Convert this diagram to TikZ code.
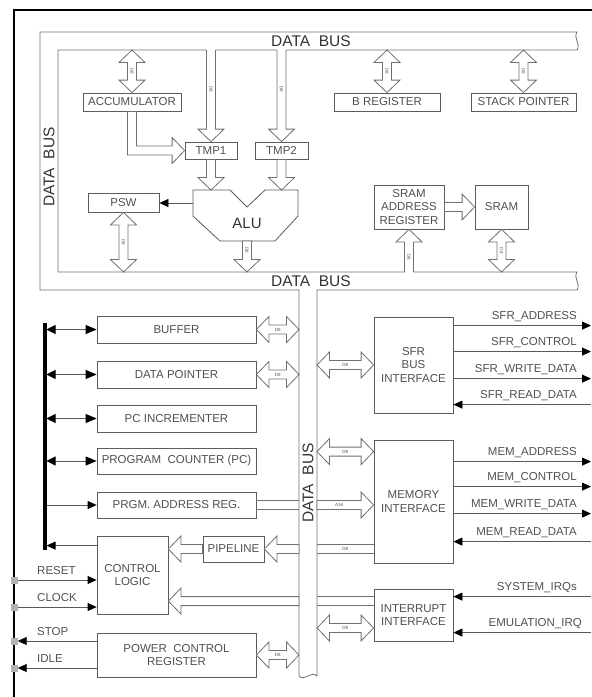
\documentclass[tikz,border=0pt]{standalone}
\usepackage{fontspec}
\setmainfont{Liberation Sans}
\usetikzlibrary{arrows.meta,calc}
\definecolor{busc}{HTML}{707070}
\definecolor{boxc}{HTML}{5C5C5C}
\definecolor{txtc}{HTML}{505050}
\newcommand\arHL{12.5pt}
\newcommand\arHW{13pt}
\newcommand\arSW{4.5pt}
% horizontal double-headed hollow arrow: #1 left tip, #2 right tip
\newcommand\HDbl[3]{%
 \path[hollow] let \p1=#1, \p2=#2 in
 (\x1,\y1) -- ({\x1+\arHL},{\y1+\arHW}) -- ({\x1+\arHL},{\y1+\arSW}) -- ({\x2-\arHL},{\y1+\arSW}) -- ({\x2-\arHL},{\y1+\arHW}) -- (\x2,\y1) -- ({\x2-\arHL},{\y1-\arHW}) -- ({\x2-\arHL},{\y1-\arSW}) -- ({\x1+\arHL},{\y1-\arSW}) -- ({\x1+\arHL},{\y1-\arHW}) -- cycle
 ({(\x1+\x2)/2},\y1) node[dlab] {#3};}
% vertical double-headed: #1 top tip, #2 bottom tip
\newcommand\VDbl[3]{%
 \path[hollow] let \p1=#1, \p2=#2 in
 (\x1,\y1) -- ({\x1+\arHW},{\y1-\arHL}) -- ({\x1+\arSW},{\y1-\arHL}) -- ({\x1+\arSW},{\y2+\arHL}) -- ({\x1+\arHW},{\y2+\arHL}) -- (\x1,\y2) -- ({\x1-\arHW},{\y2+\arHL}) -- ({\x1-\arSW},{\y2+\arHL}) -- ({\x1-\arSW},{\y1-\arHL}) -- ({\x1-\arHW},{\y1-\arHL}) -- cycle
 (\x1,{(\y1+\y2)/2}) node[dlab,rotate=-90] {#3};}
% vertical down, open top on bus: #1 top, #2 bottom tip
\newcommand\VDownOpen[3]{%
 \fill[white] let \p1=#1, \p2=#2 in ({\x1-\arSW},{\y1+1.5pt}) -- ({\x1-\arSW},{\y2+\arHL}) -- ({\x1-\arHW},{\y2+\arHL}) -- (\x1,\y2) -- ({\x1+\arHW},{\y2+\arHL}) -- ({\x1+\arSW},{\y2+\arHL}) -- ({\x1+\arSW},{\y1+1.5pt}) -- cycle;
 \draw[busc,line width=0.8pt] let \p1=#1, \p2=#2 in ({\x1-\arSW},\y1) -- ({\x1-\arSW},{\y2+\arHL}) -- ({\x1-\arHW},{\y2+\arHL}) -- (\x1,\y2) -- ({\x1+\arHW},{\y2+\arHL}) -- ({\x1+\arSW},{\y2+\arHL}) -- ({\x1+\arSW},\y1)
 (\x1,{(\y1+\y2+\arHL)/2}) node[dlab,rotate=-90] {#3};}
% vertical down closed: #1 top tail, #2 bottom tip
\newcommand\VDown[3]{%
 \path[hollow] let \p1=#1, \p2=#2 in ({\x1-\arSW},\y1) -- ({\x1-\arSW},{\y2+\arHL}) -- ({\x1-\arHW},{\y2+\arHL}) -- (\x1,\y2) -- ({\x1+\arHW},{\y2+\arHL}) -- ({\x1+\arSW},{\y2+\arHL}) -- ({\x1+\arSW},\y1) -- cycle
 (\x1,{(\y1+\y2+\arHL)/2}) node[dlab,rotate=-90] {#3};}
% vertical up, open bottom on bus: #1 top tip, #2 bottom
\newcommand\VUpOpen[3]{%
 \fill[white] let \p1=#1, \p2=#2 in ({\x1-\arSW},{\y2-1.5pt}) -- ({\x1-\arSW},{\y1-\arHL}) -- ({\x1-\arHW},{\y1-\arHL}) -- (\x1,\y1) -- ({\x1+\arHW},{\y1-\arHL}) -- ({\x1+\arSW},{\y1-\arHL}) -- ({\x1+\arSW},{\y2-1.5pt}) -- cycle;
 \draw[busc,line width=0.8pt] let \p1=#1, \p2=#2 in ({\x1-\arSW},\y2) -- ({\x1-\arSW},{\y1-\arHL}) -- ({\x1-\arHW},{\y1-\arHL}) -- (\x1,\y1) -- ({\x1+\arHW},{\y1-\arHL}) -- ({\x1+\arSW},{\y1-\arHL}) -- ({\x1+\arSW},\y2)
 (\x1,{(\y1+\y2-\arHL)/2}) node[dlab,rotate=-90] {#3};}
% horizontal right: #1 tail, #2 tip
\newcommand\HRight[3]{%
 \path[hollow] let \p1=#1, \p2=#2 in (\x1,{\y1+\arSW}) -- ({\x2-\arHL},{\y1+\arSW}) -- ({\x2-\arHL},{\y1+\arHW}) -- (\x2,\y1) -- ({\x2-\arHL},{\y1-\arHW}) -- ({\x2-\arHL},{\y1-\arSW}) -- (\x1,{\y1-\arSW}) -- cycle
 ({(\x1+\x2-\arHL)/2},\y1) node[dlab] {#3};}
% horizontal left: #1 tip (left), #2 tail (right)
\newcommand\HLeft[3]{%
 \path[hollow] let \p1=#1, \p2=#2 in (\x2,{\y1+\arSW}) -- ({\x1+\arHL},{\y1+\arSW}) -- ({\x1+\arHL},{\y1+\arHW}) -- (\x1,\y1) -- ({\x1+\arHL},{\y1-\arHW}) -- ({\x1+\arHL},{\y1-\arSW}) -- (\x2,{\y1-\arSW}) -- cycle
 ({(\x1+\x2+\arHL)/2},\y1) node[dlab] {#3};}
% channel of two lines
\newcommand\Chan[3]{%
 \draw[busc,line width=0.8pt] let \p1=#1, \p2=#2 in (\x1,{\y1+\arSW}) -- (\x2,{\y1+\arSW}) (\x1,{\y1-\arSW}) -- (\x2,{\y1-\arSW})
 ({(\x1+\x2)/2},\y1) node[dlab] {#3};}
\begin{document}
\begin{tikzpicture}[x=1pt,y=-1pt,
 box/.style={draw=boxc,line width=0.8pt,fill=white,inner sep=0pt,align=center,text=txtc,font=\fontsize{11.5}{13.5}\selectfont},
 hollow/.style={draw=busc,line width=0.8pt,fill=white},
 dlab/.style={font=\fontsize{4.5}{5}\selectfont,text=txtc,inner sep=0pt},
 buslab/.style={font=\fontsize{15.5}{17}\selectfont,text=black!80,inner sep=0pt},
 sig/.style={draw=black!65,line width=0.8pt},
 sigtip/.style={arrows={-Triangle[length=9pt,width=8pt,color=black]}},
 dbltip/.style={arrows={Triangle[length=9pt,width=9pt,color=black]-Triangle[length=11pt,width=9pt,color=black]}},
 siglab/.style={font=\fontsize{11.5}{13}\selectfont,text=txtc,inner sep=0pt,anchor=base east,yshift=6.5pt},
 leftlab/.style={font=\fontsize{11.5}{13}\selectfont,text=txtc,inner sep=0pt,anchor=base west,yshift=6pt},
 pinsq/.style={fill=black!30,minimum size=7pt,inner sep=0pt},
]
\useasboundingbox (0,0) rectangle (592,697);
% outer frame
\draw[line width=2.2pt,black] (14,697) -- (14,10) -- (592,10);
% data bus
\draw[busc,line width=0.8pt] (577,32) -- (40,32) -- (40,290) -- (299,290) -- (299,676)
  .. controls (305,682) and (311,670) .. (317,676) -- (317,290) -- (577,290)
  .. controls (581,284) and (573,278) .. (577,272) -- (58,272) -- (58,50) -- (577,50)
  .. controls (581,44) and (573,38) .. (577,32) -- cycle;
\node[buslab] (dbtop) at (311,41) {DATA\ \ BUS};
\node[buslab] (dbbot) at (311,281) {DATA\ \ BUS};
\node[buslab,rotate=90] (dbleft) at (49,167) {DATA\ \ BUS};
\node[buslab,rotate=90] (dbmid) at (308,483) {DATA\ \ BUS};
\coordinate (busTopIn) at (58,50);
\coordinate (busBotIn) at (58,272);
\coordinate (vbL) at (299,300);
\coordinate (vbR) at (317,300);
\coordinate (redge) at (591,0);
\coordinate (lx) at (577,0);
\coordinate (cbx) at (46.5,0);
% upper boxes
\node[box,minimum width=98pt,minimum height=18pt] (acc) at (132,102) {ACCUMULATOR};
\node[box,minimum width=106pt,minimum height=18pt] (breg) at (387,102) {B REGISTER};
\node[box,minimum width=105pt,minimum height=18pt] (sp) at (523.5,102) {STACK POINTER};
\node[box,minimum width=52pt,minimum height=17pt] (tmp1) at (211,150.5) {TMP1};
\node[box,minimum width=53pt,minimum height=17pt] (tmp2) at (281.5,150.5) {TMP2};
\node[box,minimum width=71pt,minimum height=19pt] (psw) at (123.5,202.5) {PSW};
\node[box,minimum width=70pt,minimum height=44pt] (sar) at (409,207) {SRAM\\ADDRESS\\REGISTER};
\node[box,minimum width=53pt,minimum height=44pt] (sram) at (501.5,207) {SRAM};
% ALU
\draw[boxc,line width=0.8pt,fill=white] (193,190) -- (230,190) -- (247,207) -- (265,190) -- (298,190) -- (298,216) -- (275,241) -- (220,241) -- (193,216) -- cycle;
\node[font=\fontsize{15}{17}\selectfont,text=black!80,inner sep=0pt] (alu) at (247,223) {ALU};
\coordinate (alubot) at (247,241);
\coordinate (aluleft) at (193,203);
\coordinate (alutop) at (247,190);
% upper hollow connectors
\VDbl{(acc.north |- busTopIn)}{(acc.north)}{D8}
\VDbl{(breg.north |- busTopIn)}{(breg.north)}{D8}
\VDbl{(sp.north |- busTopIn)}{(sp.north)}{D8}
\VDownOpen{(tmp1.north |- busTopIn)}{(tmp1.north)}{D8}
\VDownOpen{(tmp2.north |- busTopIn)}{(tmp2.north)}{D8}
\path[hollow] let \p1=(acc.south), \p2=(tmp1.west) in
  ({\x1-\arSW},\y1) -- ({\x1-\arSW},{\y2-\arSW}) -- ({\x2-\arHL},{\y2-\arSW}) -- ({\x2-\arHL},{\y2-\arHW}) -- (\x2,\y2) -- ({\x2-\arHL},{\y2+\arHW}) -- ({\x2-\arHL},{\y2+\arSW}) -- ({\x1+\arSW},{\y2+\arSW}) -- ({\x1+\arSW},\y1) -- cycle;
\VDown{(tmp1.south)}{(tmp1.south |- alutop)}{}
\VDown{(tmp2.south)}{(tmp2.south |- alutop)}{}
\draw[sig,sigtip] (aluleft) -- (aluleft -| psw.east);
\VDbl{(psw.south)}{(psw.south |- busBotIn)}{D8}
\VDown{(alubot)}{(alubot |- busBotIn)}{D8}
\HRight{(sar.east)}{(sram.west)}{}
\VUpOpen{(sar.south)}{(sar.south |- busBotIn)}{D8}
\VDbl{(sram.south)}{(sram.south |- busBotIn)}{D8}
% lower boxes
\node[box,minimum width=159pt,minimum height=27pt] (buffer) at (176.5,329.5) {BUFFER};
\node[box,minimum width=159pt,minimum height=27pt] (dptr) at (176.5,374.5) {DATA POINTER};
\node[box,minimum width=159pt,minimum height=27pt] (pcinc) at (176.5,418.5) {PC INCREMENTER};
\node[box,minimum width=159pt,minimum height=26pt] (pc) at (176.5,461) {PROGRAM\ \ COUNTER (PC)};
\node[box,minimum width=159pt,minimum height=26pt] (pareg) at (176.5,505) {PRGM. ADDRESS REG.};
\node[box,minimum width=71pt,minimum height=78pt] (ctrl) at (132.5,575) {CONTROL\\LOGIC};
\node[box,minimum width=61pt,minimum height=26pt] (pipe) at (233.5,549) {PIPELINE};
\node[box,minimum width=159pt,minimum height=44pt] (pcr) at (176.5,655) {POWER\ \ CONTROL\\REGISTER};
\node[box,minimum width=79pt,minimum height=96pt] (sfr) at (413.5,365) {SFR\\BUS\\INTERFACE};
\node[box,minimum width=79pt,minimum height=123pt] (mem) at (413.5,501.5) {MEMORY\\INTERFACE};
\node[box,minimum width=79pt,minimum height=52pt] (intr) at (413.5,615) {INTERRUPT\\INTERFACE};
% lower hollow connectors
\HDbl{(buffer.east)}{(buffer.east -| vbL)}{D8}
\HDbl{(dptr.east)}{(dptr.east -| vbL)}{D8}
\HDbl{(pcr.east)}{(pcr.east -| vbL)}{D8}
\HDbl{(sfr.west -| vbR)}{(sfr.west)}{D8}
\coordinate (md) at ($(mem.north west)+(0,12)$);
\HDbl{(md -| vbR)}{(md)}{D8}
\coordinate (idd) at ($(intr.west)+(0,13)$);
\HDbl{(idd -| vbR)}{(idd)}{D8}
\Chan{(pareg.east)}{(pareg.east -| vbL)}{}
\HRight{(pareg.east -| vbR)}{(pareg.east -| mem.west)}{A16}
\Chan{(pipe.east -| vbR)}{(pipe.east -| mem.west)}{D8}
\HLeft{(pipe.east)}{(pipe.east -| vbL)}{}
\HLeft{(ctrl.east |- pipe.east)}{(pipe.west)}{}
\coordinate (irq) at ($(intr.north west)+(0,12.5)$);
\Chan{(irq -| vbR)}{(irq)}{}
\HLeft{(irq -| ctrl.east)}{(irq -| vbL)}{}
% left control bus
\coordinate (cbT) at (44.5,323);
\coordinate (cbB) at (44.5,550);
\draw[line width=4pt,black] (cbT) -- (cbB);
\draw[sig,dbltip] (buffer.west -| cbx) -- (buffer.west);
\draw[sig,dbltip] (dptr.west -| cbx) -- (dptr.west);
\draw[sig,dbltip] (pcinc.west -| cbx) -- (pcinc.west);
\draw[sig,dbltip] (pc.west -| cbx) -- (pc.west);
\draw[sig,sigtip] (pareg.west -| cbx) -- (pareg.west);
\coordinate (cl) at ($(ctrl.north west)+(0,10)$);
\draw[sig,sigtip] (cl) -- (cl -| cbx);
% pins
\node[pinsq] (pres) at (14,580) {};
\node[pinsq] (pclk) at (14,607) {};
\node[pinsq] (pstop) at (14,641) {};
\node[pinsq] (pidle) at (14,668) {};
\draw[sig,sigtip] (pres) -- (pres -| ctrl.west);
\draw[sig,sigtip] (pclk) -- (pclk -| ctrl.west);
\draw[sig,sigtip] (pstop -| pcr.west) -- (pstop);
\draw[sig,sigtip] (pidle -| pcr.west) -- (pidle);
\node[leftlab] (lres) at (37,580) {RESET};
\node[leftlab] (lclk) at (37,607) {CLOCK};
\node[leftlab] (lstop) at (37,641) {STOP};
\node[leftlab] (lidle) at (37,668) {IDLE};
% SFR signals
\coordinate (sa) at ($(sfr.north east)+(0,9)$);
\coordinate (sc) at ($(sfr.north east)+(0,35)$);
\coordinate (sw) at ($(sfr.north east)+(0,62)$);
\coordinate (sr) at ($(sfr.north east)+(0,88)$);
\draw[sig,sigtip] (sa) -- (sa -| redge);
\draw[sig,sigtip] (sc) -- (sc -| redge);
\draw[sig,sigtip] (sw) -- (sw -| redge);
\draw[sig,sigtip] (sr -| redge) -- (sr);
\node[siglab] (lsa) at (sa -| lx) {SFR\_ADDRESS};
\node[siglab] (lsc) at (sc -| lx) {SFR\_CONTROL};
\node[siglab] (lsw) at (sw -| lx) {SFR\_WRITE\_DATA};
\node[siglab] (lsr) at (sr -| lx) {SFR\_READ\_DATA};
% MEM signals
\coordinate (ma) at ($(mem.north east)+(0,22)$);
\coordinate (mc) at ($(mem.north east)+(0,47)$);
\coordinate (mw) at ($(mem.north east)+(0,74)$);
\coordinate (mr) at ($(mem.north east)+(0,102)$);
\draw[sig,sigtip] (ma) -- (ma -| redge);
\draw[sig,sigtip] (mc) -- (mc -| redge);
\draw[sig,sigtip] (mw) -- (mw -| redge);
\draw[sig,sigtip] (mr -| redge) -- (mr);
\node[siglab] (lma) at (ma -| lx) {MEM\_ADDRESS};
\node[siglab] (lmc) at (mc -| lx) {MEM\_CONTROL};
\node[siglab] (lmw) at (mw -| lx) {MEM\_WRITE\_DATA};
\node[siglab] (lmr) at (mr -| lx) {MEM\_READ\_DATA};
% IRQ signals
\coordinate (iq) at ($(intr.north east)+(0,8)$);
\coordinate (ie) at ($(intr.north east)+(0,44)$);
\draw[sig,sigtip] (iq -| redge) -- (iq);
\draw[sig,sigtip] (ie -| redge) -- (ie);
\node[siglab] (liq) at (iq -| lx) {SYSTEM\_IRQs};
\node[siglab,xshift=5pt] (lie) at (ie -| lx) {EMULATION\_IRQ};
\end{tikzpicture}
\end{document}
